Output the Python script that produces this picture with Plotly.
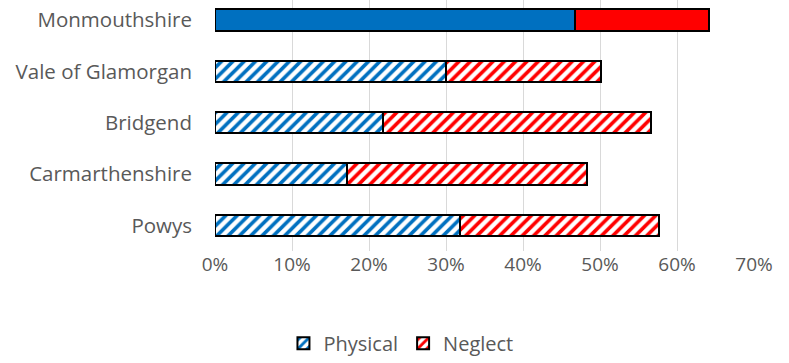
import plotly.graph_objects as go

categories = ["Powys", "Carmarthenshire", "Bridgend", "Vale of Glamorgan", "Monmouthshire"]
physical = [0.318, 0.171, 0.218, 0.300, 0.467]
neglect = [0.258, 0.312, 0.348, 0.201, 0.174]
patterns = ["/", "/", "/", "/", ""]
tick_vals = [0, 0.1, 0.2, 0.3, 0.4, 0.5, 0.6, 0.7]
tick_text = ["0%", "10%", "20%", "30%", "40%", "50%", "60%", "70%"]

blue = "#0070C0"
red = "#FF0000"

fig = go.Figure()
for name, vals, col in [("Physical", physical, blue), ("Neglect", neglect, red)]:
    fig.add_trace(go.Bar(
        y=categories, x=vals, name=name, orientation="h", width=0.42,
        marker=dict(
            color=col,
            line=dict(color="black", width=2),
            pattern=dict(shape=patterns, bgcolor="white",
                         size=8, solidity=0.45, fillmode="replace"),
        ),
    ))

fig.update_layout(
    barmode="stack",
    width=789, height=363,
    margin=dict(l=215, r=35, t=0, b=97),
    paper_bgcolor="white", plot_bgcolor="white",
    font=dict(family="Open Sans", size=18, color="#595959"),
    showlegend=True,
    legend=dict(orientation="h", x=0.345, xref="paper", y=-0.29, yanchor="top",
                xanchor="center", font=dict(size=20, color="#595959"),
                itemwidth=30, traceorder="normal"),
    xaxis=dict(range=[0, 0.7], tickvals=tick_vals, ticktext=tick_text,
               tickfont=dict(size=19),
               showgrid=True, gridcolor="#D9D9D9", gridwidth=1, zeroline=False,
               showline=False, ticks="", fixedrange=True),
    yaxis=dict(range=[-0.5, 4.39], showgrid=False, ticks="", ticklabelstandoff=22,
               tickfont=dict(size=20.5),
               showline=False, zeroline=False),
)

fig.write_html("out.html")
